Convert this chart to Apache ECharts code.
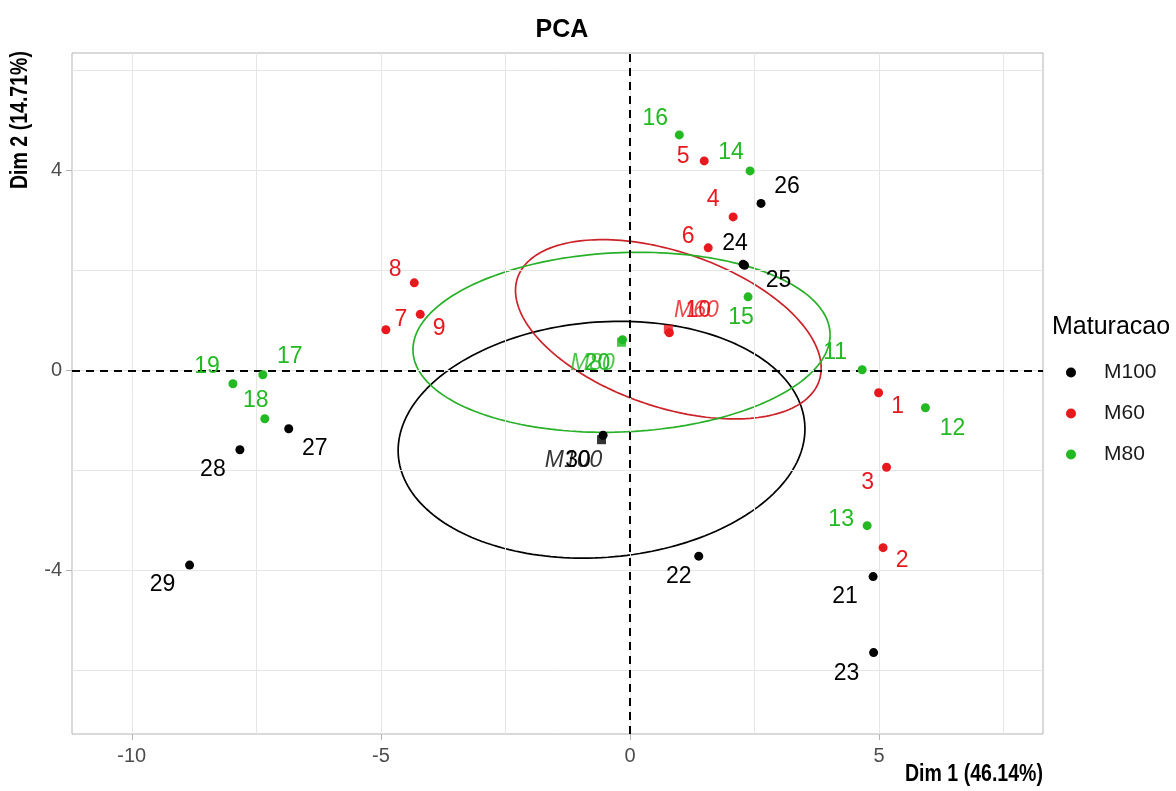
<!DOCTYPE html>
<html><head><meta charset="utf-8">
<script src="https://cdn.jsdelivr.net/npm/echarts@6/dist/echarts.min.js"></script>
<style>html,body{margin:0;padding:0;background:#fff}#c{width:1176px;height:791px}</style>
</head><body><div id="c"></div>
<script>
// ---------- data ----------
const groupNames = ['M100', 'M60', 'M80'];
const m100Ids = ['21','22','23','24','25','26','27','28','29','30'];
const m100X = [4.88, 1.38, 4.89, 2.27, 2.30, 2.63, -6.85, -7.83, -8.84, -0.54];
const m100Y = [-4.13, -3.72, -5.65, 2.12, 2.10, 3.34, -1.17, -1.59, -3.90, -1.30];
const m60Ids = ['1','2','3','4','5','6','7','8','9','10'];
const m60X = [4.99, 5.08, 5.15, 2.07, 1.49, 1.57, -4.90, -4.33, -4.21, 0.79];
const m60Y = [-0.45, -3.55, -1.94, 3.07, 4.19, 2.45, 0.81, 1.75, 1.12, 0.75];
const m80Ids = ['11','12','13','14','15','16','17','18','19','20'];
const m80X = [4.66, 5.93, 4.76, 2.41, 2.37, 0.99, -7.37, -7.33, -7.97, -0.15];
const m80Y = [0.01, -0.75, -3.11, 3.99, 1.47, 4.71, -0.09, -0.97, -0.27, 0.61];
const xTicks = [-10, -5, 0, 5];
const yTicks = [-4, 0, 4];
const xMinor = [-7.5, -2.5, 2.5, 7.5];
const yMinor = [-6, -2, 2, 6];
const xTitle = 'Dim 1 (46.14%)';
const yTitle = 'Dim 2 (14.71%)';
const chartTitle = 'PCA';
const legendTitle = 'Maturacao';

// ---------- styling ----------
const colors = {M100: '#000000', M60: '#E8191E', M80: '#22B922'};
const ellipseColors = {M100: '#000000', M60: '#CC2229', M80: '#28B028'};
const labelOffsets = {
  '1':[19,14],'2':[19,13],'3':[-19,15],'4':[-20,-17],'5':[-21,-4],'6':[-20,-11],'7':[15,-10],'8':[-19,-13],'9':[19,14],'10':[29,-22],
  '11':[-27,-17],'12':[27,21],'13':[-26,-6],'14':[-19,-18],'15':[-7,21],'16':[-24,-16],'17':[27,-18],'18':[-9,-18],'19':[-26,-17],'20':[-25,24],
  '21':[-28,20],'22':[-20,21],'23':[-27,21],'24':[-8,-21],'25':[34,15],'26':[26,-17],'27':[26,20],'28':[-27,20],'29':[-27,20],'30':[-25,25]
};
const centroidOffsets = {M100:[-28,21], M60:[28,-19], M80:[-29,21]};
const FONT = "'Liberation Sans', Arial, sans-serif";

const groups = [
  {name:'M100', ids:m100Ids, xs:m100X, ys:m100Y},
  {name:'M60', ids:m60Ids, xs:m60X, ys:m60Y},
  {name:'M80', ids:m80Ids, xs:m80X, ys:m80Y}
];

function mean(a){ return a.reduce((s,v)=>s+v,0)/a.length; }
function confEllipse(xs, ys, level, npts){
  const n = xs.length, mx = mean(xs), my = mean(ys);
  let sxx=0, syy=0, sxy=0;
  for (let i=0;i<n;i++){ const dx=xs[i]-mx, dy=ys[i]-my; sxx+=dx*dx; syy+=dy*dy; sxy+=dx*dy; }
  const a = sxx/(n-1)/n, b = sxy/(n-1)/n, c = syy/(n-1)/n;
  const l11 = Math.sqrt(a), l21 = b/l11, l22 = Math.sqrt(c - l21*l21);
  const t = Math.sqrt(-2*Math.log(1-level));
  const out = [];
  for (let k=0;k<=npts;k++){
    const th = 2*Math.PI*k/npts, u=Math.cos(th), v=Math.sin(th);
    out.push([mx + t*l11*u, my + t*(l21*u + l22*v)]);
  }
  return out;
}

const series = [];
series.push({
  type:'line', data:[], silent:true, z:1,
  markLine:{
    silent:true, symbol:['none','none'], label:{show:false}, animation:false,
    lineStyle:{color:'#e6e6e6', width:1, type:'solid'},
    data: xTicks.concat(xMinor).map(v=>({xAxis:v})).concat(yTicks.concat(yMinor).map(v=>({yAxis:v})))
  }
});
series.push({
  type:'line', data:[], silent:true, z:3,
  markLine:{
    silent:true, symbol:['none','none'], label:{show:false}, animation:false,
    lineStyle:{color:'#000', width:2, type:[8,6]},
    data:[{xAxis:0},{yAxis:0}]
  }
});

groups.forEach(g=>{
  const col = colors[g.name];
  series.push({
    name:g.name, type:'scatter', symbol:'circle', symbolSize:9, z:5,
    itemStyle:{color:col, opacity:1},
    label:{show:true, position:'inside', align:'center', verticalAlign:'middle', fontSize:23, fontFamily:FONT, color:col,
      formatter:p=>p.data.id},
    data:g.ids.map((id,i)=>({value:[g.xs[i], g.ys[i]], id:id, label:{offset:labelOffsets[id]}}))
  });
  series.push({
    name:g.name+' ellipse', type:'line', showSymbol:false, symbol:'none', smooth:false, z:4, silent:true,
    lineStyle:{color:ellipseColors[g.name], width:1.7},
    data:confEllipse(g.xs, g.ys, 0.95, 200)
  });
  series.push({
    name:g.name+' centroid', type:'scatter', symbol:'rect', symbolSize:9, z:6,
    itemStyle:{color:col},
    label:{show:true, position:'inside', align:'center', verticalAlign:'middle', fontSize:23, fontStyle:'italic', fontFamily:FONT, color:col,
      offset:centroidOffsets[g.name], formatter:()=>g.name},
    data:[[mean(g.xs), mean(g.ys)]]
  });
});

const chart = echarts.init(document.getElementById('c'), null, {renderer:'canvas'});
chart.setOption({
  animation:false,
  backgroundColor:'#fff',
  title:{text:chartTitle, left:557, top:13, textAlign:'center',
    textStyle:{fontSize:25, fontWeight:'bold', fontFamily:FONT, color:'#000'}},
  legend:{
    data:groupNames, orient:'vertical', left:1061, top:357, icon:'circle',
    itemWidth:42, itemHeight:10, itemGap:20,
    textStyle:{fontSize:21, fontFamily:FONT, color:'#1a1a1a', lineHeight:21, padding:[0,0,0,7]}
  },
  grid:{left:72, right:133, top:53, bottom:57, show:true, borderColor:'#b3b3b3', borderWidth:1, containLabel:false},
  xAxis:{type:'value', min:-11.2, max:8.29,
    splitLine:{show:false},
    axisLine:{show:false, onZero:false},
    axisTick:{show:true, customValues:xTicks, length:6, lineStyle:{color:'#b3b3b3'}},
    axisLabel:{customValues:xTicks, fontSize:20, fontFamily:FONT, color:'#4d4d4d', margin:12}
  },
  yAxis:{type:'value', min:-7.28, max:6.35,
    splitLine:{show:false},
    axisLine:{show:false, onZero:false},
    axisTick:{show:true, customValues:yTicks, length:6, lineStyle:{color:'#b3b3b3'}},
    axisLabel:{customValues:yTicks, fontSize:20, fontFamily:FONT, color:'#4d4d4d', margin:10}
  },
  graphic:[
    {type:'text', x:1043, y:775, scaleX:0.85,
      style:{text:xTitle, fontSize:23, fontWeight:'bold', fontFamily:FONT, fill:'#000', align:'right', verticalAlign:'middle'}},
    {type:'text', x:21, y:120, rotation:Math.PI/2, scaleX:0.85,
      style:{text:yTitle, fontSize:23, fontWeight:'bold', fontFamily:FONT, fill:'#000', align:'center', verticalAlign:'middle'}},
    {type:'text', left:1052, top:315, style:{text:legendTitle, fontSize:25, fontFamily:FONT, fill:'#000'}}
  ],
  series:series
});
</script></body></html>
